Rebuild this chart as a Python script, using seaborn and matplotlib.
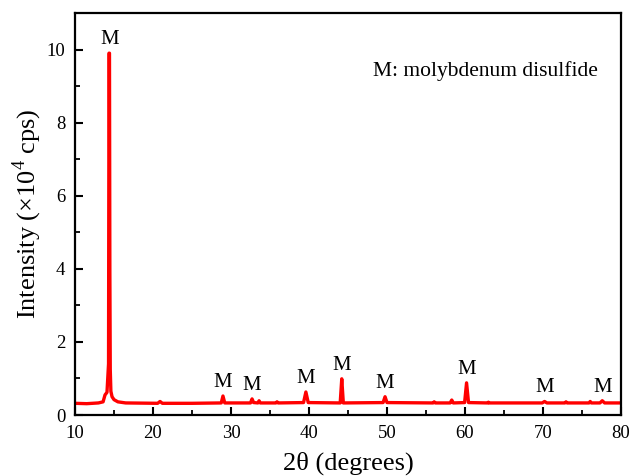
import numpy as np
import pandas as pd
import matplotlib
matplotlib.use("Agg")
import matplotlib.pyplot as plt
import seaborn as sns
from matplotlib.ticker import MultipleLocator

# --- data (2theta in degrees, intensity in 1e4 cps) ---
two_theta = [10.0, 11.5, 13.0, 13.6, 13.85, 14.1, 14.3, 14.36, 14.42, 14.47, 14.52,
             14.6, 14.75, 15.0, 15.5, 16.5, 20.6, 20.9, 21.2, 25.0,
             28.75, 28.97, 29.2, 32.5, 32.7, 32.9, 33.45, 33.6, 33.75,
             35.75, 35.9, 36.05, 39.3, 39.6, 39.9, 44.0, 44.2, 44.4,
             49.5, 49.75, 50.0, 55.9, 56.05, 56.2, 58.1, 58.3, 58.5,
             59.95, 60.2, 60.45, 62.9, 63.0, 63.1, 69.9, 70.2, 70.5,
             72.8, 72.95, 73.1, 75.9, 76.05, 76.2, 77.3, 77.6, 77.9, 80.0]
intensity = [0.32, 0.31, 0.33, 0.36, 0.55, 0.62, 1.4, 9.9, 9.9, 3.9, 1.25,
             0.65, 0.5, 0.42, 0.36, 0.33, 0.32, 0.37, 0.32, 0.32,
             0.33, 0.52, 0.33, 0.33, 0.44, 0.34, 0.33, 0.39, 0.33,
             0.33, 0.36, 0.33, 0.34, 0.63, 0.34, 0.33, 0.99, 0.33,
             0.34, 0.50, 0.34, 0.33, 0.36, 0.33, 0.33, 0.41, 0.33,
             0.34, 0.88, 0.34, 0.33, 0.35, 0.33, 0.33, 0.37, 0.33,
             0.33, 0.36, 0.33, 0.33, 0.37, 0.33, 0.33, 0.39, 0.33, 0.33]

peak_pos = [14.42, 28.97, 32.7, 39.6, 44.2, 49.75, 60.2, 70.2, 77.6]
peak_height = [9.9, 0.52, 0.44, 0.63, 0.99, 0.50, 0.88, 0.37, 0.39]
peak_label = "M"
legend_text = "M: molybdenum disulfide"

x_ticks = [10, 20, 30, 40, 50, 60, 70, 80]
y_ticks = [0, 2, 4, 6, 8, 10]

sns.set_style("ticks")
plt.rcParams['font.family'] = ['Liberation Serif', 'DejaVu Serif']
plt.rcParams['mathtext.fontset'] = 'custom'
plt.rcParams['mathtext.rm'] = 'Liberation Serif'
for key in ['text.color', 'axes.labelcolor', 'xtick.color', 'ytick.color']:
    plt.rcParams[key] = 'black'

fig = plt.figure(figsize=(6.32, 4.76), dpi=100)
ax = fig.add_axes([75/632, 61/476, 546/632, 402/476])

df = pd.DataFrame({"two_theta": two_theta, "intensity": intensity})
sns.lineplot(data=df, x="two_theta", y="intensity", ax=ax, color="#ff0000",
             linewidth=2.4, sort=False, estimator=None)

for px, ph in zip(peak_pos, peak_height):
    ax.annotate(peak_label, xy=(px, ph), xytext=(0, 3), textcoords="offset points",
                ha="center", va="bottom", fontsize=15)

ax.text(0.545, 0.855, legend_text, transform=ax.transAxes, fontsize=15.5,
        ha="left", va="center")

ax.set_xlim(10, 80)
ax.set_ylim(0, 11)
ax.set_xticks(x_ticks)
ax.set_yticks(y_ticks)
ax.xaxis.set_minor_locator(MultipleLocator(5))
ax.yaxis.set_minor_locator(MultipleLocator(1))
ax.tick_params(which="major", direction="in", length=6, width=1.5, labelsize=13.5,
               pad=7, top=False, right=False)
ax.tick_params(which="minor", direction="in", length=3.5, width=1.3,
               top=False, right=False)
for s in ax.spines.values():
    s.set_linewidth(1.6)
    s.set_color("black")

ax.set_xlabel("2θ (degrees)", fontsize=19, labelpad=7)
ax.set_ylabel("Intensity (×10$^{\\mathrm{4}}$ cps)", fontsize=19, labelpad=2)

fig.savefig("out.png", dpi=100)
